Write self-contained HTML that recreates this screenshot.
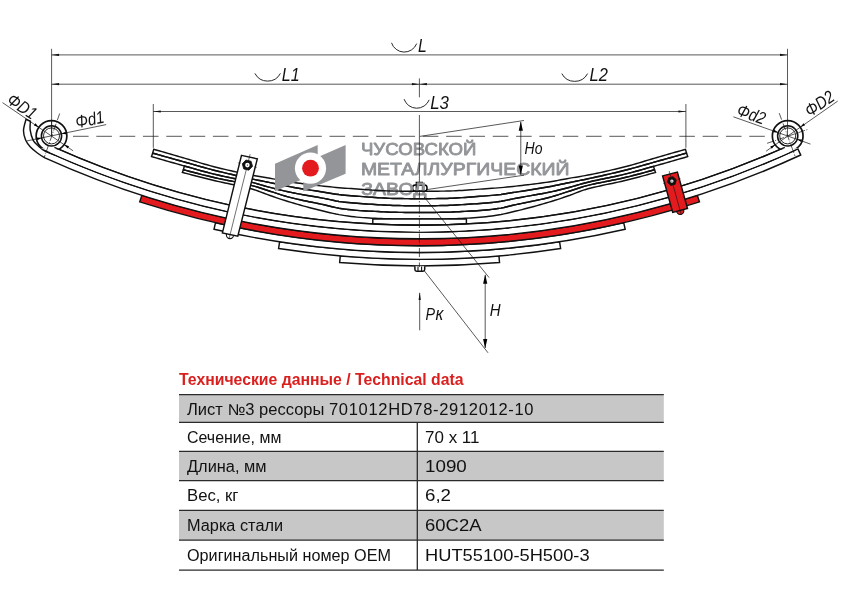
<!DOCTYPE html>
<html lang="ru"><head><meta charset="utf-8"><title>Лист №3 рессоры 701012HD78-2912012-10</title>
<style>
html,body{margin:0;padding:0;background:#fff}
body{width:842px;height:595px;position:relative;overflow:hidden;font-family:"Liberation Sans",Arial,sans-serif}
svg{position:absolute;left:0;top:0}
#pg{position:absolute;left:0;top:0;width:842px;height:595px;will-change:transform;opacity:0.999}
h1{position:absolute;left:179.2px;top:370px;margin:0;font-size:16.7px;line-height:19px;font-weight:bold;color:#d9201f;white-space:nowrap;transform:scaleX(0.946);transform-origin:0 0}
table{position:absolute;left:179px;top:394.6px;width:484.8px;border-collapse:collapse;border-spacing:0;font-size:15.6px;color:#111;table-layout:fixed}
td{box-sizing:border-box;padding:1px 0 0 7.7px;border:0;white-space:nowrap;vertical-align:middle;line-height:17px}
td.v{width:246.5px;padding-left:8.1px}
.w{display:inline-block;position:relative;transform-origin:0 50%}
.r1 .w{top:1px}.r4 .w{top:-1px}
</style></head><body><div id="pg">
<svg width="842" height="595" viewBox="0 0 842 595">
<g fill="#fff" stroke="#111" stroke-width="1.45" stroke-linejoin="miter">
</g>
<path d="M183.4 169.7 184.4 169.97 186 170.41 189 171.21 192 172.01 195 172.79 198 173.57 201 174.33 204 175.08 207 175.82 210 176.55 213 177.27 216 177.96 219 178.62 222 179.25 225 179.86 228 180.46 231 181.05 234 181.65 237 182.24 240 182.86 243 183.49 246 184.15 249 184.85 252 185.59 255 186.38 258 187.27 261 188.23 264 189.23 267 190.23 270 191.2 273 192.16 276 193.13 279 194.11 282 195.07 285 196 288 196.86 291 197.66 294 198.4 297 199.1 300 199.78 303 200.42 306 201.05 309 201.67 312 202.28 315 202.89 318 203.5 321 204.13 324 204.78 327 205.46 330 206.21 333 206.96 336 207.65 339 208.24 342 208.69 345 209.1 348 209.47 351 209.81 354 210.11 357 210.37 360 210.6 363 210.8 366 210.96 369 211.11 372 211.26 375 211.4 378 211.56 381 211.72 384 211.88 387 212.04 390 212.17 393 212.26 396 212.31 399 212.35 402 212.39 405 212.42 408 212.45 411 212.47 414 212.49 417 212.5 420 212.5 423 212.5 426 212.48 429 212.47 432 212.44 435 212.41 438 212.38 441 212.34 444 212.3 447 212.24 450 212.13 453 212 456 211.84 459 211.68 462 211.51 465 211.36 468 211.22 471 211.08 474 210.92 477 210.75 480 210.54 483 210.3 486 210.03 489 209.72 492 209.38 495 209 498 208.58 501 208.1 504 207.48 507 206.76 510 206.01 513 205.27 516 204.6 519 203.96 522 203.34 525 202.73 528 202.12 531 201.51 534 200.89 537 200.25 540 199.6 543 198.92 546 198.21 549 197.45 552 196.64 555 195.75 558 194.82 561 193.85 564 192.87 567 191.9 570 190.95 573 189.97 576 188.96 579 187.97 582 187.02 585 186.16 588 185.39 591 184.66 594 183.98 597 183.33 600 182.71 603 182.1 606 181.51 609 180.93 612 180.33 615 179.73 618 179.11 621 178.46 624 177.78 627 177.07 630 176.33 633 175.57 636 174.8 639 174.01 642 173.2 645 172.38 648 171.55 651 170.7 653.5 169.99 654 169.84 654.5 169.7 L655.5 172.4 654 172.83 653.5 172.97 651 173.67 648 174.51 645 175.33 642 176.15 639 176.96 636 177.75 633 178.53 630 179.3 627 180.05 624 180.79 621 181.49 618 182.16 615 182.8 612 183.43 609 184.05 606 184.66 603 185.29 600 185.93 597 186.59 594 187.29 591 188.03 588 188.82 585 189.68 582 190.66 579 191.76 576 192.93 573 194.1 570 195.22 567 196.26 564 197.3 561 198.32 558 199.32 555 200.3 552 201.25 549 202.16 546 203.05 543 203.92 540 204.78 537 205.62 534 206.44 531 207.25 528 208.04 525 208.82 522 209.59 519 210.33 516 211.07 513 211.79 510 212.51 507 213.22 504 213.88 501 214.48 498 215 495 215.47 492 215.92 489 216.34 486 216.72 483 217.05 480 217.33 477 217.57 474 217.78 471 217.97 468 218.13 465 218.27 462 218.39 459 218.52 456 218.64 453 218.74 450 218.83 447 218.88 444 218.9 441 218.9 438 218.9 435 218.9 432 218.9 429 218.9 426 218.9 423 218.9 420 218.9 417 218.9 414 218.9 411 218.9 408 218.9 405 218.9 402 218.9 399 218.9 396 218.9 393 218.89 390 218.84 387 218.77 384 218.67 381 218.55 378 218.42 375 218.3 372 218.17 369 218.01 366 217.83 363 217.63 360 217.4 357 217.13 354 216.81 351 216.44 348 216.04 345 215.6 342 215.13 339 214.63 336 214.05 333 213.4 330 212.7 327 211.98 324 211.26 321 210.53 318 209.79 315 209.03 312 208.25 309 207.46 306 206.66 303 205.84 300 205 297 204.15 294 203.28 291 202.4 288 201.49 285 200.55 282 199.58 279 198.59 276 197.57 273 196.54 270 195.5 267 194.4 264 193.24 261 192.07 258 190.95 255 189.93 252 189.05 249 188.24 246 187.48 243 186.77 240 186.09 237 185.43 234 184.8 231 184.18 228 183.57 225 182.94 222 182.31 219 181.66 216 180.97 213 180.26 210 179.53 207 178.78 204 178.03 201 177.28 198 176.51 195 175.73 192 174.95 189 174.16 186 173.36 184.4 172.94 183 172.56 182.4 172.4 ZM184.4 166 186 166.45 189 167.3 192 168.15 195 169 198 169.84 201 170.68 204 171.5 207 172.31 210 173.09 213 173.85 216 174.58 219 175.28 222 175.95 225 176.59 228 177.22 231 177.85 234 178.46 237 179.08 240 179.71 243 180.35 246 181.01 249 181.69 252 182.4 255 183.16 258 183.98 261 184.85 264 185.73 267 186.59 270 187.4 273 188.17 276 188.93 279 189.68 282 190.4 285 191.1 288 191.77 291 192.41 294 193.01 297 193.59 300 194.15 303 194.69 306 195.22 309 195.74 312 196.26 315 196.78 318 197.31 321 197.85 324 198.41 327 199 330 199.66 333 200.32 336 200.94 339 201.46 342 201.85 345 202.19 348 202.5 351 202.77 354 203.03 357 203.27 360 203.5 363 203.73 366 203.94 369 204.14 372 204.32 375 204.5 378 204.68 381 204.86 384 205.04 387 205.2 390 205.34 393 205.45 396 205.52 399 205.58 402 205.63 405 205.68 408 205.72 411 205.75 414 205.78 417 205.8 420 205.8 423 205.79 426 205.77 429 205.75 432 205.71 435 205.67 438 205.62 441 205.56 444 205.5 447 205.42 450 205.31 453 205.16 456 204.99 459 204.81 462 204.63 465 204.45 468 204.27 471 204.08 474 203.88 477 203.67 480 203.44 483 203.2 486 202.96 489 202.7 492 202.42 495 202.11 498 201.75 501 201.33 504 200.78 507 200.15 510 199.48 513 198.84 516 198.26 519 197.7 522 197.17 525 196.64 528 196.12 531 195.6 534 195.08 537 194.55 540 194 543 193.44 546 192.85 549 192.24 552 191.6 555 190.92 558 190.21 561 189.48 564 188.73 567 187.97 570 187.19 573 186.36 576 185.49 579 184.61 582 183.76 585 182.95 588 182.21 591 181.51 594 180.83 597 180.18 600 179.54 603 178.92 606 178.3 609 177.68 612 177.06 615 176.42 618 175.77 621 175.1 624 174.39 627 173.65 630 172.89 633 172.1 636 171.28 639 170.46 642 169.62 645 168.77 648 167.92 651 167.07 653.5 166.36 L654.5 169.7 654 169.84 653.5 169.99 651 170.7 648 171.55 645 172.38 642 173.2 639 174.01 636 174.8 633 175.57 630 176.33 627 177.07 624 177.78 621 178.46 618 179.11 615 179.73 612 180.33 609 180.93 606 181.51 603 182.1 600 182.71 597 183.33 594 183.98 591 184.66 588 185.39 585 186.16 582 187.02 579 187.97 576 188.96 573 189.97 570 190.95 567 191.9 564 192.87 561 193.85 558 194.82 555 195.75 552 196.64 549 197.45 546 198.21 543 198.92 540 199.6 537 200.25 534 200.89 531 201.51 528 202.12 525 202.73 522 203.34 519 203.96 516 204.6 513 205.27 510 206.01 507 206.76 504 207.48 501 208.1 498 208.58 495 209 492 209.38 489 209.72 486 210.03 483 210.3 480 210.54 477 210.75 474 210.92 471 211.08 468 211.22 465 211.36 462 211.51 459 211.68 456 211.84 453 212 450 212.13 447 212.24 444 212.3 441 212.34 438 212.38 435 212.41 432 212.44 429 212.47 426 212.48 423 212.5 420 212.5 417 212.5 414 212.49 411 212.47 408 212.45 405 212.42 402 212.39 399 212.35 396 212.31 393 212.26 390 212.17 387 212.04 384 211.88 381 211.72 378 211.56 375 211.4 372 211.26 369 211.11 366 210.96 363 210.8 360 210.6 357 210.37 354 210.11 351 209.81 348 209.47 345 209.1 342 208.69 339 208.24 336 207.65 333 206.96 330 206.21 327 205.46 324 204.78 321 204.13 318 203.5 315 202.89 312 202.28 309 201.67 306 201.05 303 200.42 300 199.78 297 199.1 294 198.4 291 197.66 288 196.86 285 196 282 195.07 279 194.11 276 193.13 273 192.16 270 191.2 267 190.23 264 189.23 261 188.23 258 187.27 255 186.38 252 185.59 249 184.85 246 184.15 243 183.49 240 182.86 237 182.24 234 181.65 231 181.05 228 180.46 225 179.86 222 179.25 219 178.62 216 177.96 213 177.27 210 176.55 207 175.82 204 175.08 201 174.33 198 173.57 195 172.79 192 172.01 189 171.21 186 170.41 184.4 169.97 183.4 169.7 ZM152.7 153.1 153 153.19 156 154.03 159 154.88 162 155.73 165 156.58 168 157.42 171 158.26 174 159.1 177 159.94 180 160.78 183 161.62 184.4 162.01 186 162.46 189 163.31 192 164.16 195 165.02 198 165.87 201 166.71 204 167.55 207 168.37 210 169.17 213 169.95 216 170.7 219 171.44 222 172.17 225 172.89 228 173.6 231 174.3 234 174.99 237 175.67 240 176.34 243 177.01 246 177.67 249 178.32 252 178.96 255 179.59 258 180.21 261 180.81 264 181.4 267 182 270 182.6 273 183.22 276 183.85 279 184.49 282 185.12 285 185.73 288 186.32 291 186.88 294 187.42 297 187.94 300 188.44 303 188.94 306 189.42 309 189.9 312 190.37 315 190.84 318 191.31 321 191.77 324 192.24 327 192.72 330 193.22 333 193.72 336 194.18 339 194.58 342 194.91 345 195.2 348 195.47 351 195.71 354 195.94 357 196.17 360 196.4 363 196.64 366 196.87 369 197.1 372 197.31 375 197.5 378 197.69 381 197.87 384 198.06 387 198.22 390 198.36 393 198.46 396 198.51 399 198.55 402 198.59 405 198.62 408 198.65 411 198.67 414 198.69 417 198.7 420 198.7 423 198.7 426 198.68 429 198.67 432 198.64 435 198.61 438 198.58 441 198.54 444 198.5 447 198.44 450 198.33 453 198.18 456 198.01 459 197.82 462 197.64 465 197.45 468 197.25 471 197.04 474 196.81 477 196.57 480 196.34 483 196.11 486 195.88 489 195.65 492 195.4 495 195.13 498 194.83 501 194.48 504 194.06 507 193.59 510 193.09 513 192.59 516 192.12 519 191.65 522 191.18 525 190.72 528 190.25 531 189.78 534 189.3 537 188.81 540 188.31 543 187.8 546 187.28 549 186.74 552 186.17 555 185.57 558 184.95 561 184.32 564 183.68 567 183.05 570 182.44 573 181.84 576 181.25 579 180.65 582 180.05 585 179.43 588 178.79 591 178.14 594 177.49 597 176.83 600 176.17 603 175.49 606 174.81 609 174.12 612 173.41 615 172.7 618 171.98 621 171.25 624 170.5 627 169.74 630 168.96 633 168.15 636 167.33 639 166.49 642 165.64 645 164.79 648 163.93 651 163.08 653.5 162.38 654 162.24 657 161.4 660 160.56 663 159.72 666 158.88 669 158.04 672 157.19 675 156.35 678 155.5 681 154.66 684 153.81 686.5 153.1 L687.7 156.6 687 156.8 684 157.68 681 158.55 678 159.41 675 160.28 672 161.14 669 161.99 666 162.85 663 163.7 660 164.54 657 165.38 654 166.22 653.5 166.36 651 167.07 648 167.92 645 168.77 642 169.62 639 170.46 636 171.28 633 172.1 630 172.89 627 173.65 624 174.39 621 175.1 618 175.77 615 176.42 612 177.06 609 177.68 606 178.3 603 178.92 600 179.54 597 180.18 594 180.83 591 181.51 588 182.21 585 182.95 582 183.76 579 184.61 576 185.49 573 186.36 570 187.19 567 187.97 564 188.73 561 189.48 558 190.21 555 190.92 552 191.6 549 192.24 546 192.85 543 193.44 540 194 537 194.55 534 195.08 531 195.6 528 196.12 525 196.64 522 197.17 519 197.7 516 198.26 513 198.84 510 199.48 507 200.15 504 200.78 501 201.33 498 201.75 495 202.11 492 202.42 489 202.7 486 202.96 483 203.2 480 203.44 477 203.67 474 203.88 471 204.08 468 204.27 465 204.45 462 204.63 459 204.81 456 204.99 453 205.16 450 205.31 447 205.42 444 205.5 441 205.56 438 205.62 435 205.67 432 205.71 429 205.75 426 205.77 423 205.79 420 205.8 417 205.8 414 205.78 411 205.75 408 205.72 405 205.68 402 205.63 399 205.58 396 205.52 393 205.45 390 205.34 387 205.2 384 205.04 381 204.86 378 204.68 375 204.5 372 204.32 369 204.14 366 203.94 363 203.73 360 203.5 357 203.27 354 203.03 351 202.77 348 202.5 345 202.19 342 201.85 339 201.46 336 200.94 333 200.32 330 199.66 327 199 324 198.41 321 197.85 318 197.31 315 196.78 312 196.26 309 195.74 306 195.22 303 194.69 300 194.15 297 193.59 294 193.01 291 192.41 288 191.77 285 191.1 282 190.4 279 189.68 276 188.93 273 188.17 270 187.4 267 186.59 264 185.73 261 184.85 258 183.98 255 183.16 252 182.4 249 181.69 246 181.01 243 180.35 240 179.71 237 179.08 234 178.46 231 177.85 228 177.22 225 176.59 222 175.95 219 175.28 216 174.58 213 173.85 210 173.09 207 172.31 204 171.5 201 170.68 198 169.84 195 169 192 168.15 189 167.3 186 166.45 184.4 166 183 165.61 180 164.77 177 163.92 174 163.07 171 162.22 168 161.37 165 160.51 162 159.65 159 158.78 156 157.91 153 157.04 151.5 156.6 ZM153.7 149.3 156 149.96 159 150.82 162 151.67 165 152.53 168 153.4 171 154.26 174 155.12 177 155.98 180 156.85 183 157.71 184.4 158.12 186 158.58 189 159.47 192 160.37 195 161.28 198 162.18 201 163.08 204 163.96 207 164.82 210 165.65 213 166.44 216 167.2 219 167.95 222 168.68 225 169.39 228 170.1 231 170.78 234 171.46 237 172.12 240 172.76 243 173.39 246 174.01 249 174.61 252 175.19 255 175.76 258 176.29 261 176.8 264 177.29 267 177.79 270 178.3 273 178.84 276 179.4 279 179.97 282 180.54 285 181.08 288 181.59 291 182.05 294 182.49 297 182.91 300 183.32 303 183.71 306 184.09 309 184.46 312 184.82 315 185.17 318 185.52 321 185.86 324 186.19 327 186.52 330 186.84 333 187.15 336 187.44 339 187.72 342 187.96 345 188.19 348 188.39 351 188.59 354 188.79 357 188.99 360 189.2 363 189.43 366 189.67 369 189.9 372 190.12 375 190.3 378 190.46 381 190.61 384 190.75 387 190.88 390 190.99 393 191.06 396 191.11 399 191.15 402 191.19 405 191.22 408 191.25 411 191.27 414 191.29 417 191.3 420 191.3 423 191.3 426 191.28 429 191.27 432 191.24 435 191.21 438 191.18 441 191.14 444 191.1 447 191.05 450 190.96 453 190.85 456 190.72 459 190.57 462 190.42 465 190.26 468 190.06 471 189.84 474 189.6 477 189.36 480 189.14 483 188.94 486 188.74 489 188.54 492 188.34 495 188.13 498 187.9 501 187.65 504 187.37 507 187.07 510 186.76 513 186.43 516 186.1 519 185.77 522 185.43 525 185.08 528 184.73 531 184.36 534 183.99 537 183.61 540 183.21 543 182.8 546 182.37 549 181.93 552 181.46 555 180.94 558 180.39 561 179.82 564 179.25 567 178.69 570 178.16 573 177.65 576 177.16 579 176.66 582 176.15 585 175.61 588 175.04 591 174.45 594 173.85 597 173.23 600 172.59 603 171.94 606 171.28 609 170.6 612 169.91 615 169.2 618 168.48 621 167.75 624 167 627 166.24 630 165.43 633 164.59 636 163.73 639 162.84 642 161.94 645 161.04 648 160.13 651 159.23 653.5 158.49 654 158.35 657 157.48 660 156.62 663 155.75 666 154.89 669 154.03 672 153.17 675 152.3 678 151.45 681 150.59 684 149.73 685.5 149.3 L686.5 153.1 684 153.81 681 154.66 678 155.5 675 156.35 672 157.19 669 158.04 666 158.88 663 159.72 660 160.56 657 161.4 654 162.24 653.5 162.38 651 163.08 648 163.93 645 164.79 642 165.64 639 166.49 636 167.33 633 168.15 630 168.96 627 169.74 624 170.5 621 171.25 618 171.98 615 172.7 612 173.41 609 174.12 606 174.81 603 175.49 600 176.17 597 176.83 594 177.49 591 178.14 588 178.79 585 179.43 582 180.05 579 180.65 576 181.25 573 181.84 570 182.44 567 183.05 564 183.68 561 184.32 558 184.95 555 185.57 552 186.17 549 186.74 546 187.28 543 187.8 540 188.31 537 188.81 534 189.3 531 189.78 528 190.25 525 190.72 522 191.18 519 191.65 516 192.12 513 192.59 510 193.09 507 193.59 504 194.06 501 194.48 498 194.83 495 195.13 492 195.4 489 195.65 486 195.88 483 196.11 480 196.34 477 196.57 474 196.81 471 197.04 468 197.25 465 197.45 462 197.64 459 197.82 456 198.01 453 198.18 450 198.33 447 198.44 444 198.5 441 198.54 438 198.58 435 198.61 432 198.64 429 198.67 426 198.68 423 198.7 420 198.7 417 198.7 414 198.69 411 198.67 408 198.65 405 198.62 402 198.59 399 198.55 396 198.51 393 198.46 390 198.36 387 198.22 384 198.06 381 197.87 378 197.69 375 197.5 372 197.31 369 197.1 366 196.87 363 196.64 360 196.4 357 196.17 354 195.94 351 195.71 348 195.47 345 195.2 342 194.91 339 194.58 336 194.18 333 193.72 330 193.22 327 192.72 324 192.24 321 191.77 318 191.31 315 190.84 312 190.37 309 189.9 306 189.42 303 188.94 300 188.44 297 187.94 294 187.42 291 186.88 288 186.32 285 185.73 282 185.12 279 184.49 276 183.85 273 183.22 270 182.6 267 182 264 181.4 261 180.81 258 180.21 255 179.59 252 178.96 249 178.32 246 177.67 243 177.01 240 176.34 237 175.67 234 174.99 231 174.3 228 173.6 225 172.89 222 172.17 219 171.44 216 170.7 213 169.95 210 169.17 207 168.37 204 167.55 201 166.71 198 165.87 195 165.02 192 164.16 189 163.31 186 162.46 184.4 162.01 183 161.62 180 160.78 177 159.94 174 159.1 171 158.26 168 157.42 165 156.58 162 155.73 159 154.88 156 154.03 153 153.19 152.7 153.1 Z" fill="#fff"/>
<g fill="#fff" stroke="#000" stroke-width="1.5">
<path d="M416.2 185V182.2H422.4V185" stroke-width="1.1"/>
<rect x="412.6" y="184.9" width="14.4" height="6.3" rx="2.6"/>
<path d="M416.4 185V191M422.6 185V191" stroke-width="1.5"/>
</g>
<g font-family="Liberation Sans, Arial, sans-serif" font-size="17.4" fill="#939598" stroke="#939598" stroke-width="0.85" stroke-linejoin="round">
<text x="360.9" y="154.5" textLength="115.5" lengthAdjust="spacingAndGlyphs">ЧУСОВСКОЙ</text>
<text x="360.9" y="174.9" textLength="208.7" lengthAdjust="spacingAndGlyphs">МЕТАЛЛУРГИЧЕСКИЙ</text>
<text x="361.3" y="195.2" textLength="65.2" lengthAdjust="spacingAndGlyphs">ЗАВОД</text>
</g>
<g fill="none" stroke="#111" stroke-width="1.45" stroke-linejoin="miter">
<path d="M183.4 169.7 184.4 169.97 186 170.41 189 171.21 192 172.01 195 172.79 198 173.57 201 174.33 204 175.08 207 175.82 210 176.55 213 177.27 216 177.96 219 178.62 222 179.25 225 179.86 228 180.46 231 181.05 234 181.65 237 182.24 240 182.86 243 183.49 246 184.15 249 184.85 252 185.59 255 186.38 258 187.27 261 188.23 264 189.23 267 190.23 270 191.2 273 192.16 276 193.13 279 194.11 282 195.07 285 196 288 196.86 291 197.66 294 198.4 297 199.1 300 199.78 303 200.42 306 201.05 309 201.67 312 202.28 315 202.89 318 203.5 321 204.13 324 204.78 327 205.46 330 206.21 333 206.96 336 207.65 339 208.24 342 208.69 345 209.1 348 209.47 351 209.81 354 210.11 357 210.37 360 210.6 363 210.8 366 210.96 369 211.11 372 211.26 375 211.4 378 211.56 381 211.72 384 211.88 387 212.04 390 212.17 393 212.26 396 212.31 399 212.35 402 212.39 405 212.42 408 212.45 411 212.47 414 212.49 417 212.5 420 212.5 423 212.5 426 212.48 429 212.47 432 212.44 435 212.41 438 212.38 441 212.34 444 212.3 447 212.24 450 212.13 453 212 456 211.84 459 211.68 462 211.51 465 211.36 468 211.22 471 211.08 474 210.92 477 210.75 480 210.54 483 210.3 486 210.03 489 209.72 492 209.38 495 209 498 208.58 501 208.1 504 207.48 507 206.76 510 206.01 513 205.27 516 204.6 519 203.96 522 203.34 525 202.73 528 202.12 531 201.51 534 200.89 537 200.25 540 199.6 543 198.92 546 198.21 549 197.45 552 196.64 555 195.75 558 194.82 561 193.85 564 192.87 567 191.9 570 190.95 573 189.97 576 188.96 579 187.97 582 187.02 585 186.16 588 185.39 591 184.66 594 183.98 597 183.33 600 182.71 603 182.1 606 181.51 609 180.93 612 180.33 615 179.73 618 179.11 621 178.46 624 177.78 627 177.07 630 176.33 633 175.57 636 174.8 639 174.01 642 173.2 645 172.38 648 171.55 651 170.7 653.5 169.99 654 169.84 654.5 169.7 L655.5 172.4 654 172.83 653.5 172.97 651 173.67 648 174.51 645 175.33 642 176.15 639 176.96 636 177.75 633 178.53 630 179.3 627 180.05 624 180.79 621 181.49 618 182.16 615 182.8 612 183.43 609 184.05 606 184.66 603 185.29 600 185.93 597 186.59 594 187.29 591 188.03 588 188.82 585 189.68 582 190.66 579 191.76 576 192.93 573 194.1 570 195.22 567 196.26 564 197.3 561 198.32 558 199.32 555 200.3 552 201.25 549 202.16 546 203.05 543 203.92 540 204.78 537 205.62 534 206.44 531 207.25 528 208.04 525 208.82 522 209.59 519 210.33 516 211.07 513 211.79 510 212.51 507 213.22 504 213.88 501 214.48 498 215 495 215.47 492 215.92 489 216.34 486 216.72 483 217.05 480 217.33 477 217.57 474 217.78 471 217.97 468 218.13 465 218.27 462 218.39 459 218.52 456 218.64 453 218.74 450 218.83 447 218.88 444 218.9 441 218.9 438 218.9 435 218.9 432 218.9 429 218.9 426 218.9 423 218.9 420 218.9 417 218.9 414 218.9 411 218.9 408 218.9 405 218.9 402 218.9 399 218.9 396 218.9 393 218.89 390 218.84 387 218.77 384 218.67 381 218.55 378 218.42 375 218.3 372 218.17 369 218.01 366 217.83 363 217.63 360 217.4 357 217.13 354 216.81 351 216.44 348 216.04 345 215.6 342 215.13 339 214.63 336 214.05 333 213.4 330 212.7 327 211.98 324 211.26 321 210.53 318 209.79 315 209.03 312 208.25 309 207.46 306 206.66 303 205.84 300 205 297 204.15 294 203.28 291 202.4 288 201.49 285 200.55 282 199.58 279 198.59 276 197.57 273 196.54 270 195.5 267 194.4 264 193.24 261 192.07 258 190.95 255 189.93 252 189.05 249 188.24 246 187.48 243 186.77 240 186.09 237 185.43 234 184.8 231 184.18 228 183.57 225 182.94 222 182.31 219 181.66 216 180.97 213 180.26 210 179.53 207 178.78 204 178.03 201 177.28 198 176.51 195 175.73 192 174.95 189 174.16 186 173.36 184.4 172.94 183 172.56 182.4 172.4 Z"/>
<path d="M184.4 166 186 166.45 189 167.3 192 168.15 195 169 198 169.84 201 170.68 204 171.5 207 172.31 210 173.09 213 173.85 216 174.58 219 175.28 222 175.95 225 176.59 228 177.22 231 177.85 234 178.46 237 179.08 240 179.71 243 180.35 246 181.01 249 181.69 252 182.4 255 183.16 258 183.98 261 184.85 264 185.73 267 186.59 270 187.4 273 188.17 276 188.93 279 189.68 282 190.4 285 191.1 288 191.77 291 192.41 294 193.01 297 193.59 300 194.15 303 194.69 306 195.22 309 195.74 312 196.26 315 196.78 318 197.31 321 197.85 324 198.41 327 199 330 199.66 333 200.32 336 200.94 339 201.46 342 201.85 345 202.19 348 202.5 351 202.77 354 203.03 357 203.27 360 203.5 363 203.73 366 203.94 369 204.14 372 204.32 375 204.5 378 204.68 381 204.86 384 205.04 387 205.2 390 205.34 393 205.45 396 205.52 399 205.58 402 205.63 405 205.68 408 205.72 411 205.75 414 205.78 417 205.8 420 205.8 423 205.79 426 205.77 429 205.75 432 205.71 435 205.67 438 205.62 441 205.56 444 205.5 447 205.42 450 205.31 453 205.16 456 204.99 459 204.81 462 204.63 465 204.45 468 204.27 471 204.08 474 203.88 477 203.67 480 203.44 483 203.2 486 202.96 489 202.7 492 202.42 495 202.11 498 201.75 501 201.33 504 200.78 507 200.15 510 199.48 513 198.84 516 198.26 519 197.7 522 197.17 525 196.64 528 196.12 531 195.6 534 195.08 537 194.55 540 194 543 193.44 546 192.85 549 192.24 552 191.6 555 190.92 558 190.21 561 189.48 564 188.73 567 187.97 570 187.19 573 186.36 576 185.49 579 184.61 582 183.76 585 182.95 588 182.21 591 181.51 594 180.83 597 180.18 600 179.54 603 178.92 606 178.3 609 177.68 612 177.06 615 176.42 618 175.77 621 175.1 624 174.39 627 173.65 630 172.89 633 172.1 636 171.28 639 170.46 642 169.62 645 168.77 648 167.92 651 167.07 653.5 166.36 L654.5 169.7 654 169.84 653.5 169.99 651 170.7 648 171.55 645 172.38 642 173.2 639 174.01 636 174.8 633 175.57 630 176.33 627 177.07 624 177.78 621 178.46 618 179.11 615 179.73 612 180.33 609 180.93 606 181.51 603 182.1 600 182.71 597 183.33 594 183.98 591 184.66 588 185.39 585 186.16 582 187.02 579 187.97 576 188.96 573 189.97 570 190.95 567 191.9 564 192.87 561 193.85 558 194.82 555 195.75 552 196.64 549 197.45 546 198.21 543 198.92 540 199.6 537 200.25 534 200.89 531 201.51 528 202.12 525 202.73 522 203.34 519 203.96 516 204.6 513 205.27 510 206.01 507 206.76 504 207.48 501 208.1 498 208.58 495 209 492 209.38 489 209.72 486 210.03 483 210.3 480 210.54 477 210.75 474 210.92 471 211.08 468 211.22 465 211.36 462 211.51 459 211.68 456 211.84 453 212 450 212.13 447 212.24 444 212.3 441 212.34 438 212.38 435 212.41 432 212.44 429 212.47 426 212.48 423 212.5 420 212.5 417 212.5 414 212.49 411 212.47 408 212.45 405 212.42 402 212.39 399 212.35 396 212.31 393 212.26 390 212.17 387 212.04 384 211.88 381 211.72 378 211.56 375 211.4 372 211.26 369 211.11 366 210.96 363 210.8 360 210.6 357 210.37 354 210.11 351 209.81 348 209.47 345 209.1 342 208.69 339 208.24 336 207.65 333 206.96 330 206.21 327 205.46 324 204.78 321 204.13 318 203.5 315 202.89 312 202.28 309 201.67 306 201.05 303 200.42 300 199.78 297 199.1 294 198.4 291 197.66 288 196.86 285 196 282 195.07 279 194.11 276 193.13 273 192.16 270 191.2 267 190.23 264 189.23 261 188.23 258 187.27 255 186.38 252 185.59 249 184.85 246 184.15 243 183.49 240 182.86 237 182.24 234 181.65 231 181.05 228 180.46 225 179.86 222 179.25 219 178.62 216 177.96 213 177.27 210 176.55 207 175.82 204 175.08 201 174.33 198 173.57 195 172.79 192 172.01 189 171.21 186 170.41 184.4 169.97 183.4 169.7 Z"/>
<path d="M152.7 153.1 153 153.19 156 154.03 159 154.88 162 155.73 165 156.58 168 157.42 171 158.26 174 159.1 177 159.94 180 160.78 183 161.62 184.4 162.01 186 162.46 189 163.31 192 164.16 195 165.02 198 165.87 201 166.71 204 167.55 207 168.37 210 169.17 213 169.95 216 170.7 219 171.44 222 172.17 225 172.89 228 173.6 231 174.3 234 174.99 237 175.67 240 176.34 243 177.01 246 177.67 249 178.32 252 178.96 255 179.59 258 180.21 261 180.81 264 181.4 267 182 270 182.6 273 183.22 276 183.85 279 184.49 282 185.12 285 185.73 288 186.32 291 186.88 294 187.42 297 187.94 300 188.44 303 188.94 306 189.42 309 189.9 312 190.37 315 190.84 318 191.31 321 191.77 324 192.24 327 192.72 330 193.22 333 193.72 336 194.18 339 194.58 342 194.91 345 195.2 348 195.47 351 195.71 354 195.94 357 196.17 360 196.4 363 196.64 366 196.87 369 197.1 372 197.31 375 197.5 378 197.69 381 197.87 384 198.06 387 198.22 390 198.36 393 198.46 396 198.51 399 198.55 402 198.59 405 198.62 408 198.65 411 198.67 414 198.69 417 198.7 420 198.7 423 198.7 426 198.68 429 198.67 432 198.64 435 198.61 438 198.58 441 198.54 444 198.5 447 198.44 450 198.33 453 198.18 456 198.01 459 197.82 462 197.64 465 197.45 468 197.25 471 197.04 474 196.81 477 196.57 480 196.34 483 196.11 486 195.88 489 195.65 492 195.4 495 195.13 498 194.83 501 194.48 504 194.06 507 193.59 510 193.09 513 192.59 516 192.12 519 191.65 522 191.18 525 190.72 528 190.25 531 189.78 534 189.3 537 188.81 540 188.31 543 187.8 546 187.28 549 186.74 552 186.17 555 185.57 558 184.95 561 184.32 564 183.68 567 183.05 570 182.44 573 181.84 576 181.25 579 180.65 582 180.05 585 179.43 588 178.79 591 178.14 594 177.49 597 176.83 600 176.17 603 175.49 606 174.81 609 174.12 612 173.41 615 172.7 618 171.98 621 171.25 624 170.5 627 169.74 630 168.96 633 168.15 636 167.33 639 166.49 642 165.64 645 164.79 648 163.93 651 163.08 653.5 162.38 654 162.24 657 161.4 660 160.56 663 159.72 666 158.88 669 158.04 672 157.19 675 156.35 678 155.5 681 154.66 684 153.81 686.5 153.1 L687.7 156.6 687 156.8 684 157.68 681 158.55 678 159.41 675 160.28 672 161.14 669 161.99 666 162.85 663 163.7 660 164.54 657 165.38 654 166.22 653.5 166.36 651 167.07 648 167.92 645 168.77 642 169.62 639 170.46 636 171.28 633 172.1 630 172.89 627 173.65 624 174.39 621 175.1 618 175.77 615 176.42 612 177.06 609 177.68 606 178.3 603 178.92 600 179.54 597 180.18 594 180.83 591 181.51 588 182.21 585 182.95 582 183.76 579 184.61 576 185.49 573 186.36 570 187.19 567 187.97 564 188.73 561 189.48 558 190.21 555 190.92 552 191.6 549 192.24 546 192.85 543 193.44 540 194 537 194.55 534 195.08 531 195.6 528 196.12 525 196.64 522 197.17 519 197.7 516 198.26 513 198.84 510 199.48 507 200.15 504 200.78 501 201.33 498 201.75 495 202.11 492 202.42 489 202.7 486 202.96 483 203.2 480 203.44 477 203.67 474 203.88 471 204.08 468 204.27 465 204.45 462 204.63 459 204.81 456 204.99 453 205.16 450 205.31 447 205.42 444 205.5 441 205.56 438 205.62 435 205.67 432 205.71 429 205.75 426 205.77 423 205.79 420 205.8 417 205.8 414 205.78 411 205.75 408 205.72 405 205.68 402 205.63 399 205.58 396 205.52 393 205.45 390 205.34 387 205.2 384 205.04 381 204.86 378 204.68 375 204.5 372 204.32 369 204.14 366 203.94 363 203.73 360 203.5 357 203.27 354 203.03 351 202.77 348 202.5 345 202.19 342 201.85 339 201.46 336 200.94 333 200.32 330 199.66 327 199 324 198.41 321 197.85 318 197.31 315 196.78 312 196.26 309 195.74 306 195.22 303 194.69 300 194.15 297 193.59 294 193.01 291 192.41 288 191.77 285 191.1 282 190.4 279 189.68 276 188.93 273 188.17 270 187.4 267 186.59 264 185.73 261 184.85 258 183.98 255 183.16 252 182.4 249 181.69 246 181.01 243 180.35 240 179.71 237 179.08 234 178.46 231 177.85 228 177.22 225 176.59 222 175.95 219 175.28 216 174.58 213 173.85 210 173.09 207 172.31 204 171.5 201 170.68 198 169.84 195 169 192 168.15 189 167.3 186 166.45 184.4 166 183 165.61 180 164.77 177 163.92 174 163.07 171 162.22 168 161.37 165 160.51 162 159.65 159 158.78 156 157.91 153 157.04 151.5 156.6 Z"/>
<path d="M153.7 149.3 156 149.96 159 150.82 162 151.67 165 152.53 168 153.4 171 154.26 174 155.12 177 155.98 180 156.85 183 157.71 184.4 158.12 186 158.58 189 159.47 192 160.37 195 161.28 198 162.18 201 163.08 204 163.96 207 164.82 210 165.65 213 166.44 216 167.2 219 167.95 222 168.68 225 169.39 228 170.1 231 170.78 234 171.46 237 172.12 240 172.76 243 173.39 246 174.01 249 174.61 252 175.19 255 175.76 258 176.29 261 176.8 264 177.29 267 177.79 270 178.3 273 178.84 276 179.4 279 179.97 282 180.54 285 181.08 288 181.59 291 182.05 294 182.49 297 182.91 300 183.32 303 183.71 306 184.09 309 184.46 312 184.82 315 185.17 318 185.52 321 185.86 324 186.19 327 186.52 330 186.84 333 187.15 336 187.44 339 187.72 342 187.96 345 188.19 348 188.39 351 188.59 354 188.79 357 188.99 360 189.2 363 189.43 366 189.67 369 189.9 372 190.12 375 190.3 378 190.46 381 190.61 384 190.75 387 190.88 390 190.99 393 191.06 396 191.11 399 191.15 402 191.19 405 191.22 408 191.25 411 191.27 414 191.29 417 191.3 420 191.3 423 191.3 426 191.28 429 191.27 432 191.24 435 191.21 438 191.18 441 191.14 444 191.1 447 191.05 450 190.96 453 190.85 456 190.72 459 190.57 462 190.42 465 190.26 468 190.06 471 189.84 474 189.6 477 189.36 480 189.14 483 188.94 486 188.74 489 188.54 492 188.34 495 188.13 498 187.9 501 187.65 504 187.37 507 187.07 510 186.76 513 186.43 516 186.1 519 185.77 522 185.43 525 185.08 528 184.73 531 184.36 534 183.99 537 183.61 540 183.21 543 182.8 546 182.37 549 181.93 552 181.46 555 180.94 558 180.39 561 179.82 564 179.25 567 178.69 570 178.16 573 177.65 576 177.16 579 176.66 582 176.15 585 175.61 588 175.04 591 174.45 594 173.85 597 173.23 600 172.59 603 171.94 606 171.28 609 170.6 612 169.91 615 169.2 618 168.48 621 167.75 624 167 627 166.24 630 165.43 633 164.59 636 163.73 639 162.84 642 161.94 645 161.04 648 160.13 651 159.23 653.5 158.49 654 158.35 657 157.48 660 156.62 663 155.75 666 154.89 669 154.03 672 153.17 675 152.3 678 151.45 681 150.59 684 149.73 685.5 149.3 L686.5 153.1 684 153.81 681 154.66 678 155.5 675 156.35 672 157.19 669 158.04 666 158.88 663 159.72 660 160.56 657 161.4 654 162.24 653.5 162.38 651 163.08 648 163.93 645 164.79 642 165.64 639 166.49 636 167.33 633 168.15 630 168.96 627 169.74 624 170.5 621 171.25 618 171.98 615 172.7 612 173.41 609 174.12 606 174.81 603 175.49 600 176.17 597 176.83 594 177.49 591 178.14 588 178.79 585 179.43 582 180.05 579 180.65 576 181.25 573 181.84 570 182.44 567 183.05 564 183.68 561 184.32 558 184.95 555 185.57 552 186.17 549 186.74 546 187.28 543 187.8 540 188.31 537 188.81 534 189.3 531 189.78 528 190.25 525 190.72 522 191.18 519 191.65 516 192.12 513 192.59 510 193.09 507 193.59 504 194.06 501 194.48 498 194.83 495 195.13 492 195.4 489 195.65 486 195.88 483 196.11 480 196.34 477 196.57 474 196.81 471 197.04 468 197.25 465 197.45 462 197.64 459 197.82 456 198.01 453 198.18 450 198.33 447 198.44 444 198.5 441 198.54 438 198.58 435 198.61 432 198.64 429 198.67 426 198.68 423 198.7 420 198.7 417 198.7 414 198.69 411 198.67 408 198.65 405 198.62 402 198.59 399 198.55 396 198.51 393 198.46 390 198.36 387 198.22 384 198.06 381 197.87 378 197.69 375 197.5 372 197.31 369 197.1 366 196.87 363 196.64 360 196.4 357 196.17 354 195.94 351 195.71 348 195.47 345 195.2 342 194.91 339 194.58 336 194.18 333 193.72 330 193.22 327 192.72 324 192.24 321 191.77 318 191.31 315 190.84 312 190.37 309 189.9 306 189.42 303 188.94 300 188.44 297 187.94 294 187.42 291 186.88 288 186.32 285 185.73 282 185.12 279 184.49 276 183.85 273 183.22 270 182.6 267 182 264 181.4 261 180.81 258 180.21 255 179.59 252 178.96 249 178.32 246 177.67 243 177.01 240 176.34 237 175.67 234 174.99 231 174.3 228 173.6 225 172.89 222 172.17 219 171.44 216 170.7 213 169.95 210 169.17 207 168.37 204 167.55 201 166.71 198 165.87 195 165.02 192 164.16 189 163.31 186 162.46 184.4 162.01 183 161.62 180 160.78 177 159.94 174 159.1 171 158.26 168 157.42 165 156.58 162 155.73 159 154.88 156 154.03 153 153.19 152.7 153.1 Z"/>
</g>
<g fill="#fff" stroke="#111" stroke-width="1.45" stroke-linejoin="miter">
<path d="M372.8 218.9H466.4L466.4 223.98A895 895 0 0 1 372.8 223.98Z"/>
<path d="M340.24 255.9A929.1 929.1 0 0 0 498.96 255.9L499.53 262.58A935.8 935.8 0 0 1 339.67 262.58Z"/>
<path d="M279.61 241.81A922.3 922.3 0 0 0 559.59 241.81L560.62 248.54A929.1 929.1 0 0 1 278.58 248.54Z"/>
<path d="M215.53 222.67A915.5 915.5 0 0 0 623.67 222.67L625.19 229.29A922.3 922.3 0 0 1 214.01 229.29Z"/>
</g>
<path d="M141.85 195.3A908.6 908.6 0 0 0 697.35 195.3L699.46 201.87A915.5 915.5 0 0 1 139.74 201.87Z" fill="#e41b1e" stroke="#111" stroke-width="1.45"/>
<g fill="#fff" stroke="#111" stroke-width="1.45">
<path d="M56.3 155.69A901.9 901.9 0 0 0 797.9 148.92L800.71 155.01A908.6 908.6 0 0 1 44.91 157.9595C41.97 156.37 39.82 154.82 37.4 153C34.98 151.18 32.37 149.17 30.4 147C28.43 144.83 26.75 142.77 25.6 140C24.45 137.23 23.43 133.85 23.5 130.4C23.57 126.95 25.58 121.15 26 119.3L30.4 121.3C30.37 122.78 29.73 127.03 30.2 130.2C30.67 133.37 31.8 137.63 33.2 140.3C34.6 142.97 36.6 144.4 38.6 146.2C40.6 148 42.25 149.52 45.2 151.1C48.15 152.68 52.77 154.2 56.3 155.69Z"/>
</g>
<g fill="#fff" stroke="#111" stroke-width="1.45">
<path d="M54.43 147.31A895 895 0 0 0 784.77 147.31L794.39 150.54A901.9 901.9 0 0 1 44.81 150.54Z"/>
<circle cx="51.5" cy="135.9" r="15.35" stroke-width="1.7"/>
<circle cx="787.7" cy="135.9" r="15.35" stroke-width="1.7"/>
</g>
<path d="M58.43 149.86A895.7 895.7 0 0 0 780.77 149.86L798.38 147.93A901.2 901.2 0 0 1 40.82 147.93Z" fill="#fff"/>
<g fill="#fff" stroke="#111">
<circle cx="51.5" cy="135.9" r="10.1" stroke-width="1.55"/>
<circle cx="51.5" cy="135.9" r="8" stroke-width="0.9"/>
<circle cx="787.7" cy="135.9" r="10.1" stroke-width="1.55"/>
<circle cx="787.7" cy="135.9" r="8" stroke-width="0.9"/>
</g>
<path d="M54.43 147.31A895 895 0 0 0 784.77 147.31" fill="none" stroke="#111" stroke-width="1.45"/>
<g fill="#fff" stroke="#111" stroke-width="1.5">
<path d="M414.9 266.3V269.6Q414.9 271.3 416.6 271.3H423Q424.7 271.3 424.7 269.6V266.3"/>
<path d="M418 266.5V271M421.6 266.5V271" stroke-width="1.1"/>
</g>
<g fill="none" stroke="#111" stroke-width="0.7">
<path d="M51.6 48.8V136M787.5 48.8V136M153.3 104V147.8M685.9 104V147.8"/>
<path d="M51.6 54.9H787.5M51.6 84.2H787.5M153.3 111.5H685.9"/>
<path d="M419.4 78.4V97.3M419.4 115V182.2"/>
<path d="M419.4 190V267" stroke-dasharray="9 2 1.5 2"/>
<path d="M73 136.3H764.8" stroke-dasharray="15.6 7.72"/>
<path d="M391.5 42.8A13.4 13.4 0 0 0 416.7 43.6M404.1 99.2A13.4 13.4 0 0 0 429.2 99.8M254.9 73.4A14.4 14.4 0 0 0 280.4 73.4M561.8 73.6A14.6 14.6 0 0 0 587.6 73.6" stroke-width="0.9"/>
<path d="M419.8 136.4L524 120.5M426.9 189.6L524 175.2M520.8 122V174.5"/>
<path d="M424.2 197L489.1 277.6M424.4 270.9L488 352.8M485.2 275V348M419.7 293V330.3"/>
</g>
<path d="M51.6 54.9L59.1 53.8L59.1 56ZM787.5 54.9L780 56L780 53.8ZM51.6 84.2L59.1 83.1L59.1 85.3ZM787.5 84.2L780 85.3L780 83.1ZM419.4 84.2L411.9 85.3L411.9 83.1ZM419.4 84.2L426.9 83.1L426.9 85.3ZM153.3 111.5L160.8 110.4L160.8 112.6ZM685.9 111.5L678.4 112.6L678.4 110.4ZM419.7 292L420.8 300L418.6 300Z" fill="#111"/>
<path d="M520.8 121.3L522.9 130.8L518.7 130.8ZM520.8 175L518.7 165.5L522.9 165.5ZM485.2 274.3L487.3 283.8L483.1 283.8ZM485.2 348.4L483.1 338.9L487.3 338.9Z" fill="#000"/>
<g fill="none" stroke="#111" stroke-width="0.7">
<path d="M51.6 120V136"/>
<path d="M2.5 102.6L73.1 150.8M26.9 140.9L106.2 124.6"/>
<path d="M59.7 113.5L44 158" stroke-dasharray="7 1.5 1 1.5"/>
<path d="M733.4 116.8L810.5 144.1M766.1 151.2L837.7 101.1"/>
<path d="M779.2 113.1L795 156M767.1 143.3L808.5 129.2" stroke-dasharray="7 1.5 1 1.5"/>
</g>
<path d="M38.82 127.24L33.96 125.5L35.43 123.35ZM64.18 144.56L69.04 146.3L67.57 148.45ZM41.61 137.93L37.36 140.13L36.84 137.59ZM61.39 133.87L65.64 131.67L66.16 134.21ZM778.18 132.53L773.41 132.22L774.28 129.77ZM797.22 139.27L801.99 139.58L801.12 142.03ZM775.12 144.7L771.77 148.63L770.28 146.5ZM800.28 127.1L803.63 123.17L805.12 125.3Z" fill="#000"/>
<g stroke="#111" stroke-width="1.45" fill="#fff"><circle cx="229.98" cy="235.04" r="3.6" stroke-width="1.1"/><path d="M241.5 155.4L257.3 158.9L237.8 236.2L222.4 232.9Z"/><path d="M250.12 154.24L229.02 238.92" stroke-width="0.6"/><path d="M243.73 168.92L242.25 163.83L245.93 160.01L251.07 161.28L252.55 166.37L248.87 170.19Z" fill="#111" stroke="#111" stroke-width="0.8" stroke-linejoin="round"/><circle cx="247.4" cy="165.1" r="2.3" fill="#fff" stroke="none"/><circle cx="247.4" cy="165.1" r="0.6" fill="#222" stroke="none"/><path d="M240.31 163.35L237.88 162.75M254.49 166.85L256.92 167.45" stroke-width="0.5"/></g>
<g stroke="#111" stroke-width="1.45" fill="#e41b1e"><circle cx="680.23" cy="210.93" r="3.6" stroke-width="1.1"/><path d="M662.6 175.9L677.4 172.1L687.5 208.5L672.7 212.4Z"/><path d="M669.2 171.11L681.3 214.79" stroke-width="0.6"/><path d="M670.75 185.55L667.47 182.33L668.62 177.87L673.05 176.65L676.33 179.87L675.18 184.33Z" fill="#111" stroke="#111" stroke-width="0.8" stroke-linejoin="round"/><circle cx="671.9" cy="181.1" r="1.6" fill="#fff" stroke="none"/><circle cx="671.9" cy="181.1" r="0.6" fill="#222" stroke="none"/><path d="M665.54 182.86L663.13 183.53M678.26 179.34L680.67 178.67" stroke-width="0.5"/></g>
<g>
<path d="M275 163.7L317.7 144.9V172.5L275 191.2Z" fill="#939598"/>
<path d="M303.3 163.5L345.6 144.9V173.8L303.3 191.5Z" fill="#939598"/>
<circle cx="310.5" cy="168.2" r="15.6" fill="#fff"/>
<circle cx="310.5" cy="168.2" r="8.4" fill="#e41b1e"/>
</g>
<g font-family="Liberation Sans, Arial, sans-serif" font-style="italic" fill="#111">
<text transform="translate(418 51.9) scale(0.9 1)" font-size="17.5">L</text>
<text transform="translate(281.8 81.2) scale(0.92 1)" font-size="17.5">L1</text>
<text transform="translate(589.6 81.2) scale(0.94 1)" font-size="17.5">L2</text>
<text transform="translate(430.2 108.5) scale(0.96 1)" font-size="17.5">L3</text>
<text transform="translate(524.6 154.1) scale(0.86 1)" font-size="16.3">Ho</text>
<text transform="translate(489.8 316.1) scale(0.92 1)" font-size="16.3">H</text>
<text transform="translate(425.4 319.8) scale(0.88 1)" font-size="16.3">P<tspan font-size="19" dx="0.6">к</tspan></text>
<text transform="translate(5.7 102.6) rotate(34) scale(0.85 1)" font-size="17.5">ΦD1</text>
<text transform="translate(76.7 128.2) rotate(-11.6) scale(0.85 1)" font-size="17.5">Φd1</text>
<text transform="translate(735.8 115.1) rotate(19.4) scale(0.85 1)" font-size="17.5">Φd2</text>
<text transform="translate(810 117.4) rotate(-34.8) scale(0.85 1)" font-size="17.5">ΦD2</text>
</g>
<rect x="179" y="394.6" width="484.8" height="27.7" fill="#c7c7c7"/>
<rect x="179" y="451.4" width="484.8" height="29.3" fill="#c7c7c7"/>
<rect x="179" y="510.4" width="484.8" height="29.7" fill="#c7c7c7"/>
<path d="M179 394.6H663.8M179 422.3H663.8M179 451.4H663.8M179 480.7H663.8M179 510.4H663.8M179 540.1H663.8M179 570.1H663.8M417.3 422.3V570.1" fill="none" stroke="#2b2b2b" stroke-width="1.3"/>
</svg>
<h1>Технические данные / Technical data</h1>
<table><colgroup><col style="width:238.3px"><col style="width:246.5px"></colgroup>
<tr style="height:27.7px" class="r1"><td colspan="2"><span class="w" style="transform:scaleX(1.06)">Лист №3 рессоры <span style="letter-spacing:0.63px">701012HD78-2912012-10</span></span></td></tr>
<tr style="height:29.1px"><td><span class="w" style="transform:scaleX(1.022)">Сечение, мм</span></td><td class="v"><span class="w" style="transform:scaleX(1.09)">70 x 11</span></td></tr>
<tr style="height:29.3px" class="r3"><td><span class="w" style="transform:scaleX(1.05)">Длина, мм</span></td><td class="v"><span class="w" style="transform:scaleX(1.205)">1090</span></td></tr>
<tr style="height:29.7px" class="r4"><td><span class="w" style="transform:scaleX(1.07)">Вес, кг</span></td><td class="v"><span class="w" style="transform:scaleX(1.2)">6,2</span></td></tr>
<tr style="height:29.7px"><td><span class="w" style="transform:scaleX(1.045)">Марка стали</span></td><td class="v"><span class="w" style="transform:scaleX(1.185)">60С2А</span></td></tr>
<tr style="height:30px"><td><span class="w" style="transform:scaleX(1.038)">Оригинальный номер OEM</span></td><td class="v"><span class="w" style="transform:scaleX(1.172)">HUT55100-5H500-3</span></td></tr>
</table>
</div></body></html>
